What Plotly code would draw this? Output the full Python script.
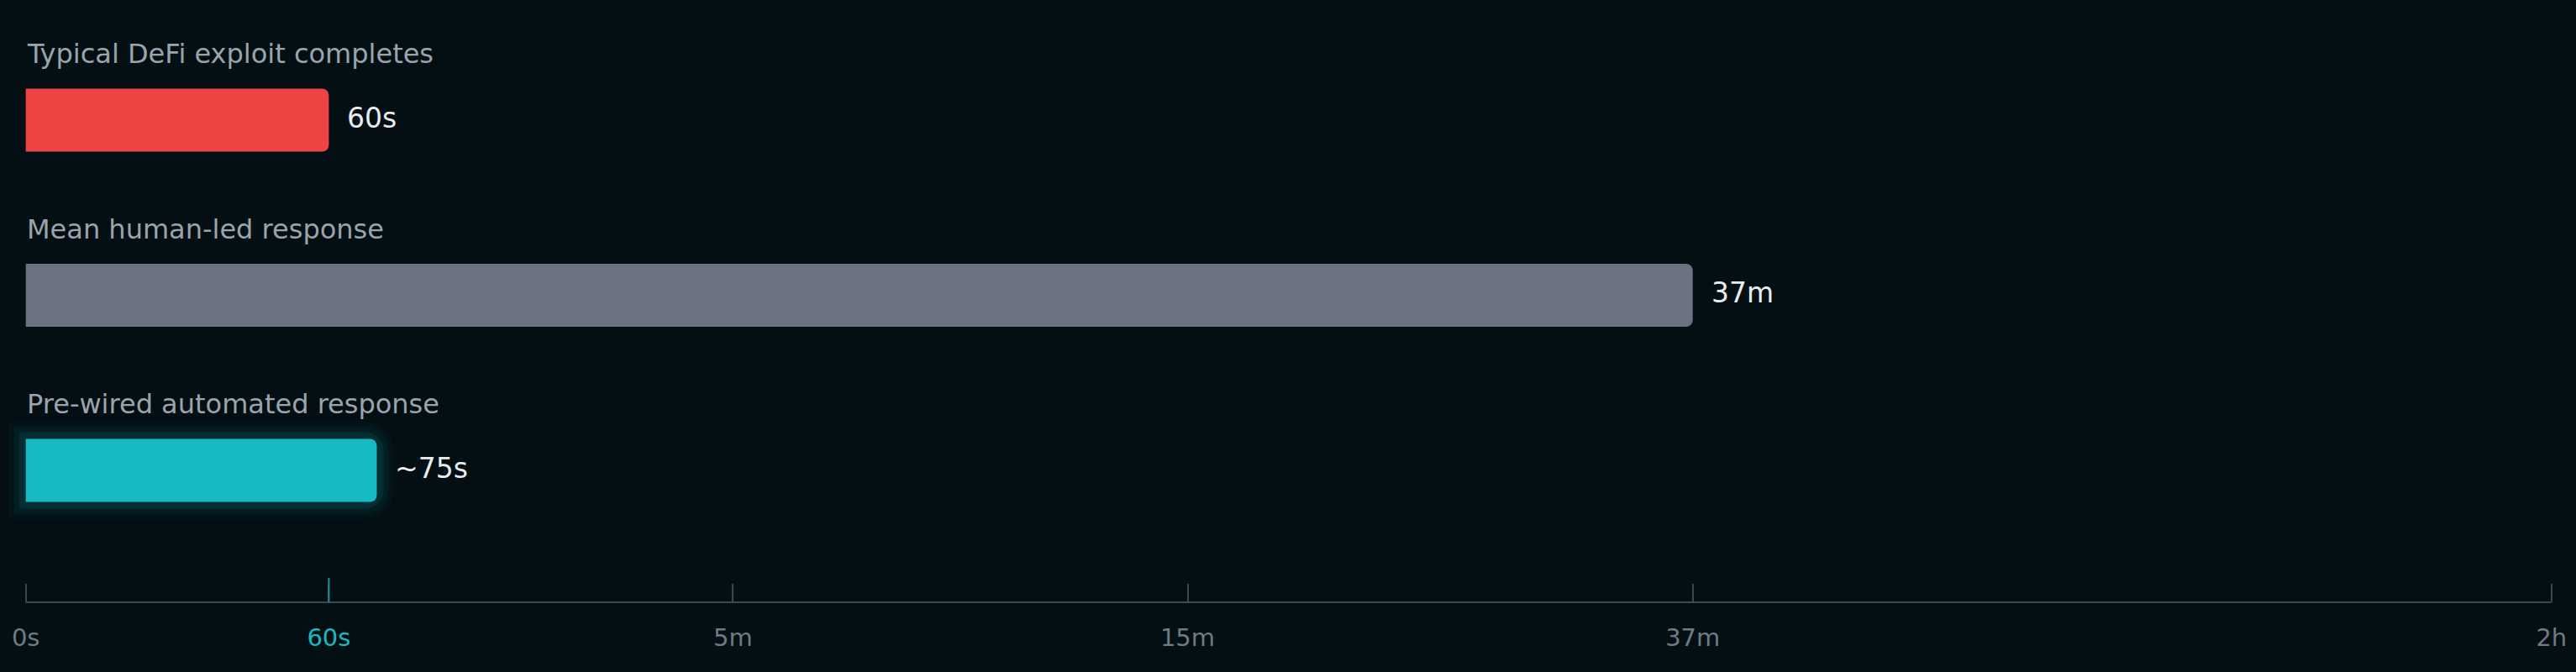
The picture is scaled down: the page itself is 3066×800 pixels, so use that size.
import numpy as np
import plotly.graph_objects as go

# response times, in seconds
stages = ["Typical DeFi exploit completes", "Mean human-led response", "Pre-wired automated response"]
seconds = [60, 37 * 60, 75]
value_labels = ["60s", "37m", "~75s"]
bar_colors = ["#ef4444", "#6b7280", "#17b9c3"]

# axis ticks of the compressed time scale
tick_seconds = [0, 60, 300, 900, 37 * 60, 2 * 3600]
tick_labels = ["0s", "60s", "5m", "15m", "37m", "2h"]
# where each tick sits along the axis (0 = start, 1 = end)
tick_stops = [0, 0.12, 0.28, 0.46, 0.66, 1.0]

TEAL = "#17b9c3"
BG = "#030f13"
AXIS = "#3a4950"


def to_axis(t):
    # piecewise log scale through the tick stops
    t = np.asarray(t, dtype=float)
    return np.interp(np.log(t + 30), np.log(np.array(tick_seconds) + 30), tick_stops)


xs = [float(to_axis(s)) for s in seconds]

fig = go.Figure()

# soft glow behind the automated response bar
for w, a in [(40, 0.04), (28, 0.06), (16, 0.1)]:
    fig.add_trace(go.Bar(
        x=[xs[2]], y=[stages[2]], orientation="h", width=0.36,
        marker=dict(color="rgba(0,0,0,0)", cornerradius=14,
                    line=dict(color="rgba(23,185,195,%s)" % a, width=w)),
        hoverinfo="skip", showlegend=False))

fig.add_trace(go.Bar(
    x=xs, y=stages, orientation="h", width=0.36,
    marker=dict(color=bar_colors, cornerradius=8, line=dict(width=0)),
    customdata=value_labels,
    hovertemplate="%{y}: %{customdata}<extra></extra>",
    showlegend=False))

# labels above each bar, values right of each bar
for name, x, lab in zip(stages, xs, value_labels):
    fig.add_annotation(x=0, y=name, text=name, showarrow=False,
                       xanchor="left", yanchor="middle", yshift=79, xshift=-1,
                       font=dict(family="DejaVu Sans", size=32, color="#9aa4ac"))
    fig.add_annotation(x=x, y=name, text=lab, showarrow=False,
                       xanchor="left", yanchor="middle", xshift=20, yshift=3,
                       font=dict(family="DejaVu Sans", size=33, color="#e8ecef"))

ticktext = [('<span style="color:%s">%s</span>' % (TEAL, t)) if t == "60s" else t
            for t in tick_labels]

# axis baseline from 0s to 2h
fig.add_shape(type="line", xref="x", yref="paper", x0=0, x1=1, y0=0, y1=0,
              line=dict(color=AXIS, width=2))
# highlighted 60s tick
fig.add_shape(type="line", xref="x", yref="paper", x0=float(to_axis(60)), x1=float(to_axis(60)),
              ysizemode="pixel", yanchor=0, y0=0, y1=29,
              line=dict(color="#1a8f98", width=2))

fig.update_layout(
    width=3066, height=800,
    paper_bgcolor=BG, plot_bgcolor=BG,
    margin=dict(l=0, r=0, t=10, b=83),
    barmode="overlay",
    font=dict(family="DejaVu Sans"),
    xaxis=dict(range=[-0.0102, 1.0097], tickvals=[float(to_axis(t)) for t in tick_seconds],
               ticktext=ticktext, showgrid=False, zeroline=False, showline=False,
               ticks="inside", ticklen=22, tickwidth=2, tickcolor=AXIS,
               ticklabelstandoff=22,
               tickfont=dict(family="DejaVu Sans", size=29, color="#6f7b83")),
    yaxis=dict(range=[2.753, -0.638], visible=False, showgrid=False,
               categoryorder="array", categoryarray=stages),
)

fig.write_html("out.html", config={"displayModeBar": False},
               post_script="document.body.style.margin='0';document.body.style.background='%s';" % BG)
